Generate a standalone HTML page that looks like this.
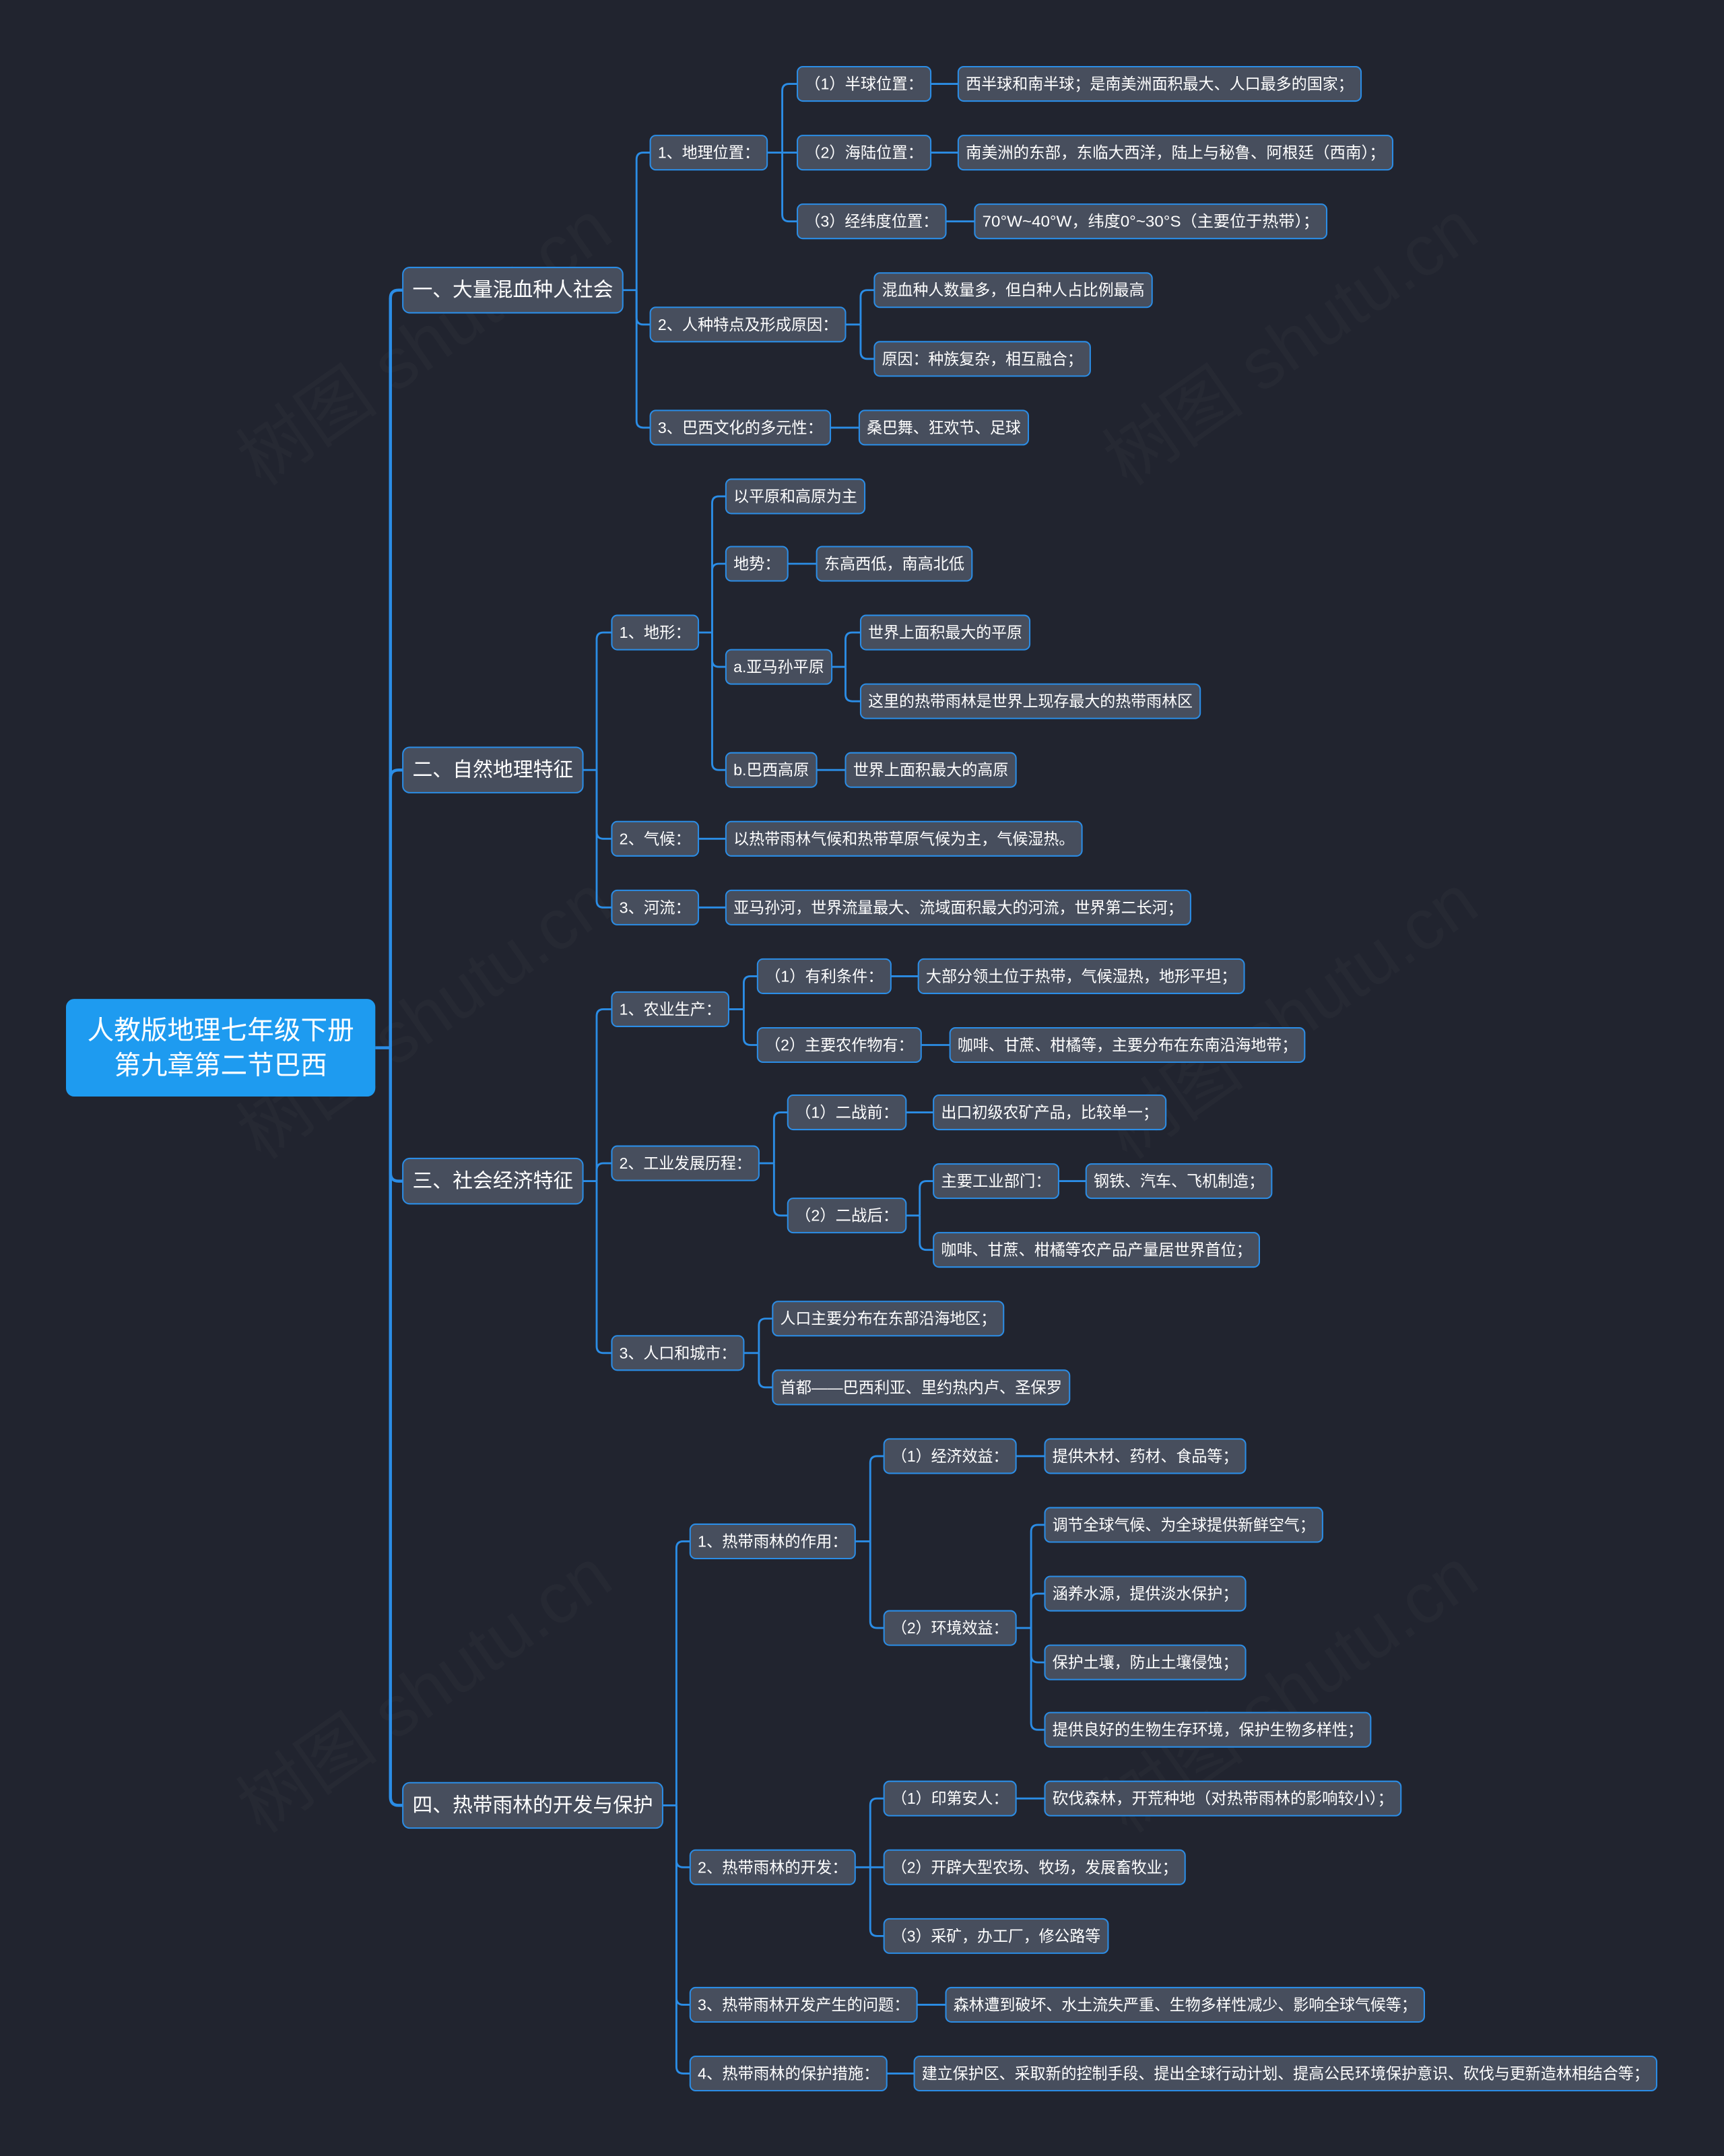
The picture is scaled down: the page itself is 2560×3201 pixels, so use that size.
<!DOCTYPE html>
<html><head><meta charset="utf-8">
<style>
html,body{margin:0;padding:0;background:#21242f;}
svg{display:block;}
text{font-family:"Liberation Sans","Noto Sans CJK SC",sans-serif;fill:#ffffff;dominant-baseline:central;}
.s{font-size:11.3px;}
.l1{font-size:14.6px;}
.r{font-size:19.3px;}
.n{fill:#474e5d;stroke:#2b8de6;stroke-width:1;}
.c{fill:none;stroke:#2b8de6;stroke-width:1.4;}
.t{fill:none;stroke:#2b8de6;stroke-width:2.2;}
.wm{font-size:52px;fill:#ffffff;fill-opacity:0.025;}
</style></head>
<body>
<svg width="2560" height="3201" viewBox="0 0 1254 1568" preserveAspectRatio="none" xmlns="http://www.w3.org/2000/svg">
<rect x="0" y="0" width="1254" height="1568" fill="#21242f"/>

<!-- watermarks -->
<g>
<text class="wm" transform="translate(180,340) rotate(-35)">树图 shutu.cn</text>
<text class="wm" transform="translate(810,340) rotate(-35)">树图 shutu.cn</text>
<text class="wm" transform="translate(180,830) rotate(-35)">树图 shutu.cn</text>
<text class="wm" transform="translate(810,830) rotate(-35)">树图 shutu.cn</text>
<text class="wm" transform="translate(180,1320) rotate(-35)">树图 shutu.cn</text>
<text class="wm" transform="translate(810,1320) rotate(-35)">树图 shutu.cn</text>
</g>

<!-- connectors: root -> level1 -->
<g>
<path class="t" d="M273 762 H284"/>
<path class="t" d="M284 762 V217 Q284 211 290 211 H293"/>
<path class="t" d="M284 762 V566 Q284 560 290 560 H293"/>
<path class="t" d="M284 762 V853 Q284 859 290 859 H293"/>
<path class="t" d="M284 762 V1307 Q284 1313 290 1313 H293"/>
</g>

<!-- section A connectors -->
<g>
<path class="c" d="M453 211 H463"/>
<path class="c" d="M463 211 V116 Q463 111 468 111 H473"/>
<path class="c" d="M463 211 V231 Q463 236 468 236 H473"/>
<path class="c" d="M463 211 V306 Q463 311 468 311 H473"/>
<path class="c" d="M558 111 H580"/>
<path class="c" d="M569 111 V66 Q569 61 574 61 H580"/>
<path class="c" d="M569 111 V156 Q569 161 574 161 H580"/>
<path class="c" d="M677 61 H697"/>
<path class="c" d="M677 111 H697"/>
<path class="c" d="M688 161 H709"/>
<path class="c" d="M615 236 H626"/>
<path class="c" d="M626 236 V216 Q626 211 631 211 H636"/>
<path class="c" d="M626 236 V256 Q626 261 631 261 H636"/>
<path class="c" d="M604 311 H625"/>
</g>

<!-- section B connectors -->
<g>
<path class="c" d="M424 560 H434"/>
<path class="c" d="M434 560 V465 Q434 460 439 460 H445"/>
<path class="c" d="M434 560 V605 Q434 610 439 610 H445"/>
<path class="c" d="M434 560 V655 Q434 660 439 660 H445"/>
<path class="c" d="M508 460 H518"/>
<path class="c" d="M518 460 V366 Q518 361 523 361 H528"/>
<path class="c" d="M518 460 V415 Q518 410 523 410 H528"/>
<path class="c" d="M518 460 V480 Q518 485 523 485 H528"/>
<path class="c" d="M518 460 V555 Q518 560 523 560 H528"/>
<path class="c" d="M573 410 H594"/>
<path class="c" d="M605 485 H615"/>
<path class="c" d="M615 485 V465 Q615 460 620 460 H626"/>
<path class="c" d="M615 485 V505 Q615 510 620 510 H626"/>
<path class="c" d="M594 560 H615"/>
<path class="c" d="M508 610 H528"/>
<path class="c" d="M508 660 H528"/>
</g>

<!-- section C connectors -->
<g>
<path class="c" d="M424 859 H434"/>
<path class="c" d="M434 859 V739 Q434 734 439 734 H445"/>
<path class="c" d="M434 859 V851 Q434 846 439 846 H445"/>
<path class="c" d="M434 859 V979 Q434 984 439 984 H445"/>
<path class="c" d="M530 734 H541"/>
<path class="c" d="M541 734 V715 Q541 710 546 710 H551"/>
<path class="c" d="M541 734 V755 Q541 760 546 760 H551"/>
<path class="c" d="M648 710 H668"/>
<path class="c" d="M670 760 H691"/>
<path class="c" d="M552 846 H563"/>
<path class="c" d="M563 846 V814 Q563 809 568 809 H573"/>
<path class="c" d="M563 846 V879 Q563 884 568 884 H573"/>
<path class="c" d="M659 809 H679"/>
<path class="c" d="M659 884 H669"/>
<path class="c" d="M669 884 V864 Q669 859 674 859 H679"/>
<path class="c" d="M669 884 V904 Q669 909 674 909 H679"/>
<path class="c" d="M770 859 H790"/>
<path class="c" d="M541 984 H552"/>
<path class="c" d="M552 984 V964 Q552 959 557 959 H562"/>
<path class="c" d="M552 984 V1004 Q552 1009 557 1009 H562"/>
</g>

<!-- section D connectors -->
<g>
<path class="c" d="M482 1313 H492"/>
<path class="c" d="M492 1313 V1126 Q492 1121 497 1121 H502"/>
<path class="c" d="M492 1313 V1353 Q492 1358 497 1358 H502"/>
<path class="c" d="M492 1313 V1453 Q492 1458 497 1458 H502"/>
<path class="c" d="M492 1313 V1503 Q492 1508 497 1508 H502"/>
<path class="c" d="M622 1121 H633"/>
<path class="c" d="M633 1121 V1064 Q633 1059 638 1059 H643"/>
<path class="c" d="M633 1121 V1179 Q633 1184 638 1184 H643"/>
<path class="c" d="M739 1059 H760"/>
<path class="c" d="M739 1184 H750"/>
<path class="c" d="M750 1184 V1114 Q750 1109 755 1109 H760"/>
<path class="c" d="M750 1184 V1164 Q750 1159 755 1159 H760"/>
<path class="c" d="M750 1184 V1204 Q750 1209 755 1209 H760"/>
<path class="c" d="M750 1184 V1253 Q750 1258 755 1258 H760"/>
<path class="c" d="M622 1358 H643"/>
<path class="c" d="M633 1358 V1313 Q633 1308 638 1308 H643"/>
<path class="c" d="M633 1358 V1403 Q633 1408 638 1408 H643"/>
<path class="c" d="M739 1308 H760"/>
<path class="c" d="M667 1458 H688"/>
<path class="c" d="M645 1508 H665"/>
</g>

<!-- root -->
<rect x="48" y="726.5" width="225" height="71" rx="6" fill="#1e9bf0"/>
<text class="r" x="160.5" y="749.5" text-anchor="middle" textLength="194" lengthAdjust="spacingAndGlyphs">人教版地理七年级下册</text>
<text class="r" x="160.5" y="775" text-anchor="middle" textLength="155" lengthAdjust="spacingAndGlyphs">第九章第二节巴西</text>

<!-- level 1 -->
<rect class="n" x="293" y="194.5" width="160" height="33" rx="5"/>
<text class="l1" x="300" y="211" textLength="146" lengthAdjust="spacingAndGlyphs">一、大量混血种人社会</text>
<rect class="n" x="293" y="543.5" width="131" height="33" rx="5"/>
<text class="l1" x="300" y="560" textLength="117" lengthAdjust="spacingAndGlyphs">二、自然地理特征</text>
<rect class="n" x="293" y="842.5" width="131" height="33" rx="5"/>
<text class="l1" x="300" y="859" textLength="117" lengthAdjust="spacingAndGlyphs">三、社会经济特征</text>
<rect class="n" x="293" y="1296.5" width="189" height="33" rx="5"/>
<text class="l1" x="300" y="1313" textLength="175" lengthAdjust="spacingAndGlyphs">四、热带雨林的开发与保护</text>

<!-- section A nodes -->
<rect class="n" x="473" y="98.5" width="85" height="25" rx="4"/>
<text class="s" x="478.5" y="111" textLength="74" lengthAdjust="spacingAndGlyphs">1、地理位置：</text>
<rect class="n" x="473" y="223.5" width="142" height="25" rx="4"/>
<text class="s" x="478.5" y="236" textLength="131" lengthAdjust="spacingAndGlyphs">2、人种特点及形成原因：</text>
<rect class="n" x="473" y="298.5" width="131" height="25" rx="4"/>
<text class="s" x="478.5" y="311" textLength="120" lengthAdjust="spacingAndGlyphs">3、巴西文化的多元性：</text>

<rect class="n" x="580" y="48.5" width="97" height="25" rx="4"/>
<text class="s" x="585.5" y="61" textLength="86" lengthAdjust="spacingAndGlyphs">（1）半球位置：</text>
<rect class="n" x="580" y="98.5" width="97" height="25" rx="4"/>
<text class="s" x="585.5" y="111" textLength="86" lengthAdjust="spacingAndGlyphs">（2）海陆位置：</text>
<rect class="n" x="580" y="148.5" width="108" height="25" rx="4"/>
<text class="s" x="585.5" y="161" textLength="97" lengthAdjust="spacingAndGlyphs">（3）经纬度位置：</text>

<rect class="n" x="697" y="48.5" width="293" height="25" rx="4"/>
<text class="s" x="702.5" y="61" textLength="282" lengthAdjust="spacingAndGlyphs">西半球和南半球；是南美洲面积最大、人口最多的国家；</text>
<rect class="n" x="697" y="98.5" width="316" height="25" rx="4"/>
<text class="s" x="702.5" y="111" textLength="305" lengthAdjust="spacingAndGlyphs">南美洲的东部，东临大西洋，陆上与秘鲁、阿根廷（西南）；</text>
<rect class="n" x="709" y="148.5" width="256" height="25" rx="4"/>
<text class="s" x="714.5" y="161" textLength="245" lengthAdjust="spacingAndGlyphs">70°W~40°W，纬度0°~30°S（主要位于热带）；</text>

<rect class="n" x="636" y="198.5" width="202" height="25" rx="4"/>
<text class="s" x="641.5" y="211" textLength="191" lengthAdjust="spacingAndGlyphs">混血种人数量多，但白种人占比例最高</text>
<rect class="n" x="636" y="248.5" width="157" height="25" rx="4"/>
<text class="s" x="641.5" y="261" textLength="146" lengthAdjust="spacingAndGlyphs">原因：种族复杂，相互融合；</text>
<rect class="n" x="625" y="298.5" width="123" height="25" rx="4"/>
<text class="s" x="630.5" y="311" textLength="112" lengthAdjust="spacingAndGlyphs">桑巴舞、狂欢节、足球</text>

<!-- section B nodes -->
<rect class="n" x="445" y="447.5" width="63" height="25" rx="4"/>
<text class="s" x="450.5" y="460" textLength="52" lengthAdjust="spacingAndGlyphs">1、地形：</text>
<rect class="n" x="445" y="597.5" width="63" height="25" rx="4"/>
<text class="s" x="450.5" y="610" textLength="52" lengthAdjust="spacingAndGlyphs">2、气候：</text>
<rect class="n" x="445" y="647.5" width="63" height="25" rx="4"/>
<text class="s" x="450.5" y="660" textLength="52" lengthAdjust="spacingAndGlyphs">3、河流：</text>

<rect class="n" x="528" y="348.5" width="101" height="25" rx="4"/>
<text class="s" x="533.5" y="361" textLength="90" lengthAdjust="spacingAndGlyphs">以平原和高原为主</text>
<rect class="n" x="528" y="397.5" width="45" height="25" rx="4"/>
<text class="s" x="533.5" y="410" textLength="34" lengthAdjust="spacingAndGlyphs">地势：</text>
<rect class="n" x="594" y="397.5" width="113" height="25" rx="4"/>
<text class="s" x="599.5" y="410" textLength="102" lengthAdjust="spacingAndGlyphs">东高西低，南高北低</text>
<rect class="n" x="528" y="472.5" width="77" height="25" rx="4"/>
<text class="s" x="533.5" y="485" textLength="66" lengthAdjust="spacingAndGlyphs">a.亚马孙平原</text>
<rect class="n" x="626" y="447.5" width="123" height="25" rx="4"/>
<text class="s" x="631.5" y="460" textLength="112" lengthAdjust="spacingAndGlyphs">世界上面积最大的平原</text>
<rect class="n" x="626" y="497.5" width="247" height="25" rx="4"/>
<text class="s" x="631.5" y="510" textLength="236" lengthAdjust="spacingAndGlyphs">这里的热带雨林是世界上现存最大的热带雨林区</text>
<rect class="n" x="528" y="547.5" width="66" height="25" rx="4"/>
<text class="s" x="533.5" y="560" textLength="55" lengthAdjust="spacingAndGlyphs">b.巴西高原</text>
<rect class="n" x="615" y="547.5" width="124" height="25" rx="4"/>
<text class="s" x="620.5" y="560" textLength="113" lengthAdjust="spacingAndGlyphs">世界上面积最大的高原</text>
<rect class="n" x="528" y="597.5" width="259" height="25" rx="4"/>
<text class="s" x="533.5" y="610" textLength="248" lengthAdjust="spacingAndGlyphs">以热带雨林气候和热带草原气候为主，气候湿热。</text>
<rect class="n" x="528" y="647.5" width="338" height="25" rx="4"/>
<text class="s" x="533.5" y="660" textLength="327" lengthAdjust="spacingAndGlyphs">亚马孙河，世界流量最大、流域面积最大的河流，世界第二长河；</text>

<!-- section C nodes -->
<rect class="n" x="445" y="721.5" width="85" height="25" rx="4"/>
<text class="s" x="450.5" y="734" textLength="74" lengthAdjust="spacingAndGlyphs">1、农业生产：</text>
<rect class="n" x="445" y="833.5" width="107" height="25" rx="4"/>
<text class="s" x="450.5" y="846" textLength="96" lengthAdjust="spacingAndGlyphs">2、工业发展历程：</text>
<rect class="n" x="445" y="971.5" width="96" height="25" rx="4"/>
<text class="s" x="450.5" y="984" textLength="85" lengthAdjust="spacingAndGlyphs">3、人口和城市：</text>

<rect class="n" x="551" y="697.5" width="97" height="25" rx="4"/>
<text class="s" x="556.5" y="710" textLength="86" lengthAdjust="spacingAndGlyphs">（1）有利条件：</text>
<rect class="n" x="668" y="697.5" width="237" height="25" rx="4"/>
<text class="s" x="673.5" y="710" textLength="226" lengthAdjust="spacingAndGlyphs">大部分领土位于热带，气候湿热，地形平坦；</text>
<rect class="n" x="551" y="747.5" width="119" height="25" rx="4"/>
<text class="s" x="556.5" y="760" textLength="108" lengthAdjust="spacingAndGlyphs">（2）主要农作物有：</text>
<rect class="n" x="691" y="747.5" width="258" height="25" rx="4"/>
<text class="s" x="696.5" y="760" textLength="247" lengthAdjust="spacingAndGlyphs">咖啡、甘蔗、柑橘等，主要分布在东南沿海地带；</text>

<rect class="n" x="573" y="796.5" width="86" height="25" rx="4"/>
<text class="s" x="578.5" y="809" textLength="75" lengthAdjust="spacingAndGlyphs">（1）二战前：</text>
<rect class="n" x="679" y="796.5" width="169" height="25" rx="4"/>
<text class="s" x="684.5" y="809" textLength="158" lengthAdjust="spacingAndGlyphs">出口初级农矿产品，比较单一；</text>
<rect class="n" x="573" y="871.5" width="86" height="25" rx="4"/>
<text class="s" x="578.5" y="884" textLength="75" lengthAdjust="spacingAndGlyphs">（2）二战后：</text>
<rect class="n" x="679" y="846.5" width="91" height="25" rx="4"/>
<text class="s" x="684.5" y="859" textLength="80" lengthAdjust="spacingAndGlyphs">主要工业部门：</text>
<rect class="n" x="790" y="846.5" width="135" height="25" rx="4"/>
<text class="s" x="795.5" y="859" textLength="124" lengthAdjust="spacingAndGlyphs">钢铁、汽车、飞机制造；</text>
<rect class="n" x="679" y="896.5" width="237" height="25" rx="4"/>
<text class="s" x="684.5" y="909" textLength="226" lengthAdjust="spacingAndGlyphs">咖啡、甘蔗、柑橘等农产品产量居世界首位；</text>

<rect class="n" x="562" y="946.5" width="168" height="25" rx="4"/>
<text class="s" x="567.5" y="959" textLength="157" lengthAdjust="spacingAndGlyphs">人口主要分布在东部沿海地区；</text>
<rect class="n" x="562" y="996.5" width="216" height="25" rx="4"/>
<text class="s" x="567.5" y="1009" textLength="205" lengthAdjust="spacingAndGlyphs">首都——巴西利亚、里约热内卢、圣保罗</text>

<!-- section D nodes -->
<rect class="n" x="502" y="1108.5" width="120" height="25" rx="4"/>
<text class="s" x="507.5" y="1121" textLength="109" lengthAdjust="spacingAndGlyphs">1、热带雨林的作用：</text>
<rect class="n" x="502" y="1345.5" width="120" height="25" rx="4"/>
<text class="s" x="507.5" y="1358" textLength="109" lengthAdjust="spacingAndGlyphs">2、热带雨林的开发：</text>
<rect class="n" x="502" y="1445.5" width="165" height="25" rx="4"/>
<text class="s" x="507.5" y="1458" textLength="154" lengthAdjust="spacingAndGlyphs">3、热带雨林开发产生的问题：</text>
<rect class="n" x="502" y="1495.5" width="143" height="25" rx="4"/>
<text class="s" x="507.5" y="1508" textLength="132" lengthAdjust="spacingAndGlyphs">4、热带雨林的保护措施：</text>

<rect class="n" x="643" y="1046.5" width="96" height="25" rx="4"/>
<text class="s" x="648.5" y="1059" textLength="85" lengthAdjust="spacingAndGlyphs">（1）经济效益：</text>
<rect class="n" x="760" y="1046.5" width="146" height="25" rx="4"/>
<text class="s" x="765.5" y="1059" textLength="135" lengthAdjust="spacingAndGlyphs">提供木材、药材、食品等；</text>
<rect class="n" x="643" y="1171.5" width="96" height="25" rx="4"/>
<text class="s" x="648.5" y="1184" textLength="85" lengthAdjust="spacingAndGlyphs">（2）环境效益：</text>
<rect class="n" x="760" y="1096.5" width="202" height="25" rx="4"/>
<text class="s" x="765.5" y="1109" textLength="191" lengthAdjust="spacingAndGlyphs">调节全球气候、为全球提供新鲜空气；</text>
<rect class="n" x="760" y="1146.5" width="146" height="25" rx="4"/>
<text class="s" x="765.5" y="1159" textLength="135" lengthAdjust="spacingAndGlyphs">涵养水源，提供淡水保护；</text>
<rect class="n" x="760" y="1196.5" width="146" height="25" rx="4"/>
<text class="s" x="765.5" y="1209" textLength="135" lengthAdjust="spacingAndGlyphs">保护土壤，防止土壤侵蚀；</text>
<rect class="n" x="760" y="1245.5" width="237" height="25" rx="4"/>
<text class="s" x="765.5" y="1258" textLength="226" lengthAdjust="spacingAndGlyphs">提供良好的生物生存环境，保护生物多样性；</text>

<rect class="n" x="643" y="1295.5" width="96" height="25" rx="4"/>
<text class="s" x="648.5" y="1308" textLength="85" lengthAdjust="spacingAndGlyphs">（1）印第安人：</text>
<rect class="n" x="760" y="1295.5" width="259" height="25" rx="4"/>
<text class="s" x="765.5" y="1308" textLength="248" lengthAdjust="spacingAndGlyphs">砍伐森林，开荒种地（对热带雨林的影响较小）；</text>
<rect class="n" x="643" y="1345.5" width="219" height="25" rx="4"/>
<text class="s" x="648.5" y="1358" textLength="208" lengthAdjust="spacingAndGlyphs">（2）开辟大型农场、牧场，发展畜牧业；</text>
<rect class="n" x="643" y="1395.5" width="163" height="25" rx="4"/>
<text class="s" x="648.5" y="1408" textLength="152" lengthAdjust="spacingAndGlyphs">（3）采矿，办工厂，修公路等</text>

<rect class="n" x="688" y="1445.5" width="348" height="25" rx="4"/>
<text class="s" x="693.5" y="1458" textLength="337" lengthAdjust="spacingAndGlyphs">森林遭到破坏、水土流失严重、生物多样性减少、影响全球气候等；</text>
<rect class="n" x="665" y="1495.5" width="540" height="25" rx="4"/>
<text class="s" x="670.5" y="1508" textLength="529" lengthAdjust="spacingAndGlyphs">建立保护区、采取新的控制手段、提出全球行动计划、提高公民环境保护意识、砍伐与更新造林相结合等；</text>

</svg>
</body></html>
